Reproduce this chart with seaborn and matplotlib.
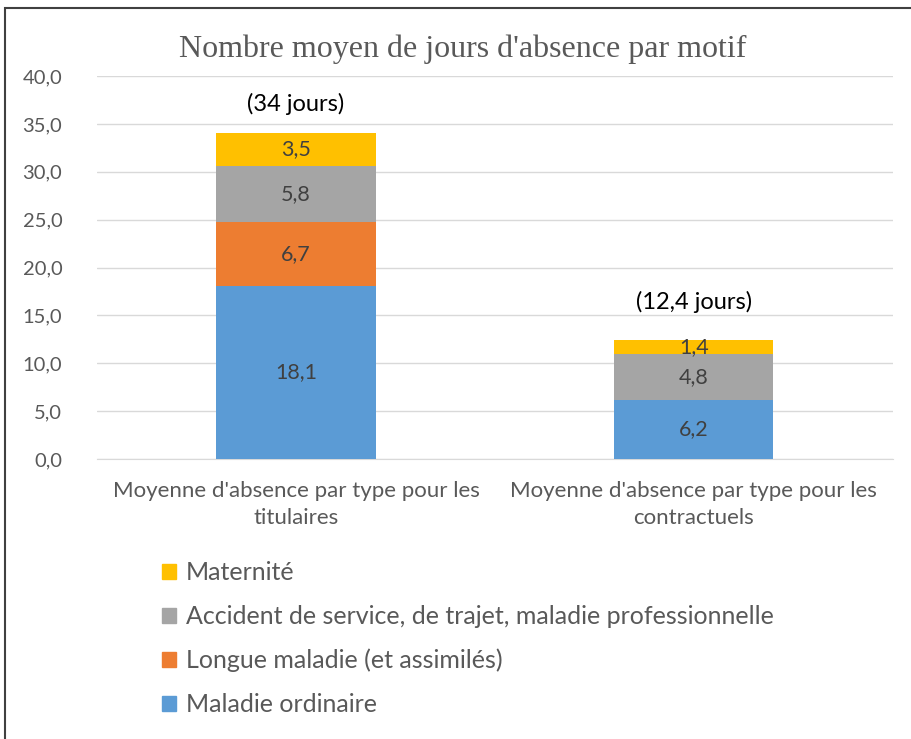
import seaborn as sns
import matplotlib.pyplot as plt
import matplotlib.patches as mpatches
import numpy as np
import pandas as pd

categories = ["Moyenne d'absence par type pour les\ntitulaires",
              "Moyenne d'absence par type pour les\ncontractuels"]
motifs = ["Maladie ordinaire", "Longue maladie (et assimilés)",
          "Accident de service, de trajet, maladie professionnelle", "Maternité"]
maladie_ordinaire = [18.1, 6.2]
longue_maladie = [6.7, 0.0]
accident = [5.8, 4.8]
maternite = [3.5, 1.4]
totaux = ["(34 jours)", "(12,4 jours)"]
colors = ["#5B9BD5", "#ED7D31", "#A5A5A5", "#FFC000"]

sns.set_style("white")
plt.rcParams['font.family'] = ['Lato', 'DejaVu Sans']

values = np.array([maladie_ordinaire, longue_maladie, accident, maternite])
cum = values.cumsum(axis=0)

fig = plt.figure(figsize=(9.11, 7.39), dpi=100)
ax = fig.add_axes([0.1065, 0.379, 0.8735, 0.518])

# stacked bars: draw cumulative heights from top layer down
for i in range(len(motifs) - 1, -1, -1):
    df = pd.DataFrame({"cat": categories, "val": cum[i]})
    sns.barplot(data=df, x="cat", y="val", color=colors[i], width=0.4,
                saturation=1, linewidth=0, ax=ax, zorder=3)

for j in range(len(categories)):
    for i in range(len(motifs)):
        v = values[i, j]
        if v > 0:
            ax.text(j, cum[i, j] - v / 2, f"{v:.1f}".replace(".", ","),
                    ha="center", va="center", fontsize=15.5, color="#404040", zorder=5)
    gap = 3.0 if j == 0 else 4.0
    ax.text(j, cum[-1, j] + gap, totaux[j], ha="center", va="center",
            fontsize=17, color="black")

ax.set_ylim(0, 40)
ax.set_yticks(np.arange(0, 41, 5))
ax.set_yticklabels([f"{t:.1f}".replace(".", ",") for t in np.arange(0, 41, 5)])
ax.yaxis.grid(True, color="#D9D9D9", linewidth=1)
ax.set_axisbelow(True)
for s in ["top", "right", "left"]:
    ax.spines[s].set_visible(False)
ax.spines["bottom"].set_color("#D9D9D9")
ax.tick_params(axis="both", length=0, labelcolor="#595959")
ax.tick_params(axis="y", labelsize=14.5, pad=25)
ax.tick_params(axis="x", labelsize=16, pad=16)
for lab in ax.get_xticklabels():
    lab.set_linespacing(1.45)
ax.set_xlabel("")
ax.set_ylabel("")
ax.set_xlim(-0.5, 1.5)

fig.text(0.508, 0.934, "Nombre moyen de jours d'absence par motif",
         ha="center", va="center", fontsize=23, color="#595959",
         family="Liberation Serif")

handles = [mpatches.Patch(color=colors[i], label=motifs[i]) for i in range(3, -1, -1)]
fig.legend(handles=handles, loc="upper left", bbox_to_anchor=(0.178, 0.241),
           frameon=False, fontsize=18, labelcolor="#595959",
           handlelength=0.55, handleheight=0.55, handletextpad=0.4,
           labelspacing=0.84, borderaxespad=0, borderpad=0)

frame = mpatches.Rectangle((0.006, -0.02), 1.1, 1 - 0.011 + 0.02,
                           transform=fig.transFigure, fill=False,
                           edgecolor="#404040", linewidth=1.5)
fig.patches.append(frame)

fig.savefig("out.png", dpi=100)
